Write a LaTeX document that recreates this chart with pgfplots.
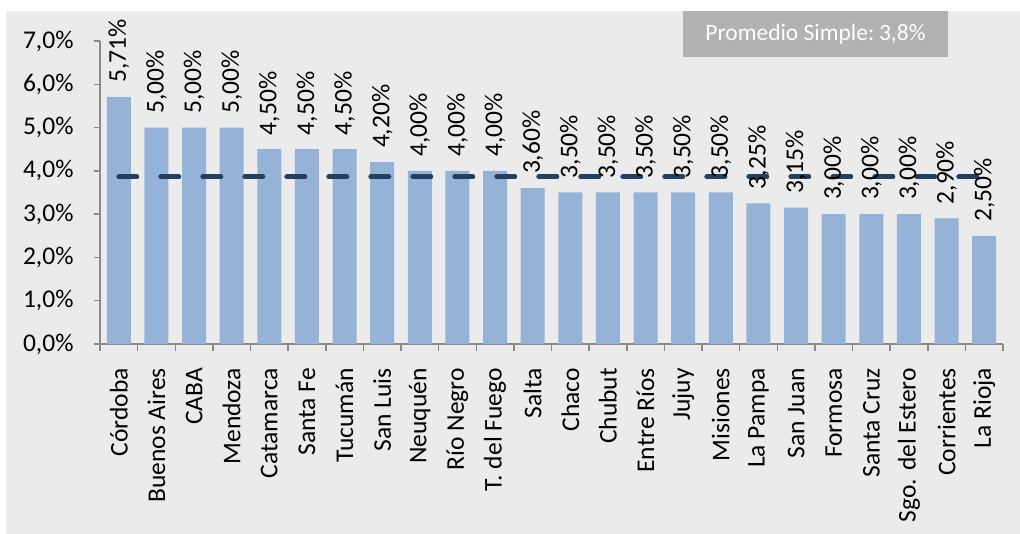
\documentclass[border=0pt]{standalone}
\usepackage{pgfplots}
\pgfplotsset{compat=1.18}
\usepackage{fontspec}
\setmainfont{Carlito}
\definecolor{bg}{HTML}{EBEBEB}
\definecolor{boxgray}{HTML}{B2B2B2}
\definecolor{barblue}{HTML}{95B3D7}
\definecolor{navy}{HTML}{243F60}
\definecolor{axgray}{HTML}{898989}
\newcommand{\bigfont}{\fontsize{25.5}{30}\selectfont}
\begin{document}
\begin{tikzpicture}
\fill[bg] (6pt,0pt) rectangle (1020pt,523pt);
\fill[boxgray] (683pt,477pt) rectangle (948pt,523pt);
\node[text=white, font=\fontsize{23.5}{28}\selectfont] at (815.5pt,500pt) {Promedio Simple:\hspace{-0.1em} 3,8\%};
\begin{axis}[
  at={(100pt,190pt)}, anchor=south west,
  scale only axis, width=903pt, height=303pt,
  xmin=-0.5, xmax=23.5, ymin=0, ymax=7,
  axis x line*=bottom, axis y line*=left,
  axis line style={draw=axgray, line width=1.5pt},
  ytick={0,1,2,3,4,5,6,7},
  yticklabels={{0,0\%},{1,0\%},{2,0\%},{3,0\%},{4,0\%},{5,0\%},{6,0\%},{7,0\%}},
  xtick={0,...,23},
  xticklabels={Córdoba,Buenos Aires,CABA,Mendoza,Catamarca,Santa Fe,Tucumán,San Luis,Neuquén,Río Negro,T. del Fuego,Salta,Chaco,Chubut,Entre Ríos,Jujuy,Misiones,La Pampa,San Juan,Formosa,Santa Cruz,Sgo. del Estero,Corrientes,La Rioja},
  minor xtick={-0.5,0.5,...,23.5},
  tick align=outside,
  major x tick style={draw=none},
  major tick length=6pt, minor tick length=7pt,
  minor tick style={draw=axgray, line width=1.5pt},
  major y tick style={draw=axgray, line width=1.5pt},
  x tick label style={rotate=90, anchor=east, font=\bigfont, text=black, inner xsep=18pt},
  y tick label style={font=\bigfont, text=black, xshift=-17pt},
  ybar, bar width=24pt,
  clip=false,
]
\addplot[fill=barblue, draw=none,
  nodes near coords, point meta=explicit symbolic,
  nodes near coords align=horizontal,
  every node near coord/.append style={rotate=90, anchor=west, font=\bigfont, text=black, inner xsep=14pt, inner ysep=0pt}]
  table[meta=label] {
x y label
0 5.71 5,71\%
1 5.00 5,00\%
2 5.00 5,00\%
3 5.00 5,00\%
4 4.50 4,50\%
5 4.50 4,50\%
6 4.50 4,50\%
7 4.20 4,20\%
8 4.00 4,00\%
9 4.00 4,00\%
10 4.00 4,00\%
11 3.60 3,60\%
12 3.50 3,50\%
13 3.50 3,50\%
14 3.50 3,50\%
15 3.50 3,50\%
16 3.50 3,50\%
17 3.25 3,25\%
18 3.15 3,15\%
19 3.00 3,00\%
20 3.00 3,00\%
21 3.00 3,00\%
22 2.90 2,90\%
23 2.50 2,50\%
};
\addplot[sharp plot, draw=navy, line width=5pt, line cap=round, dash pattern=on 18pt off 24pt, forget plot]
  coordinates {(0,3.86) (23,3.86)};
\end{axis}
\pgfresetboundingbox
\path[use as bounding box] (0pt,0pt) rectangle (1020pt,534pt);
\end{tikzpicture}
\end{document}
